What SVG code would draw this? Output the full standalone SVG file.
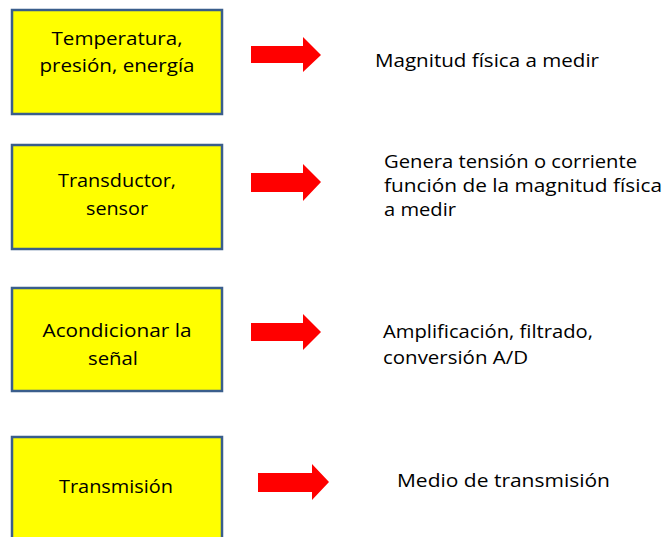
<svg xmlns="http://www.w3.org/2000/svg" width="665" height="537" viewBox="0 0 665 537">
<style>
.box{fill:#FFFF00;stroke:#3A5E8C;stroke-width:2.5}
.arr{fill:#FF0000}
text{font-family:"Open Sans","Liberation Sans",sans-serif;font-size:19px;fill:#000}
.c{text-anchor:middle}
</style>
<rect width="665" height="537" fill="#FFFFFF"/>
<g id="node-temperatura">
<rect class="box" x="12" y="10" width="210" height="104"/>
<text class="c" x="117" y="45" textLength="131" lengthAdjust="spacingAndGlyphs">Temperatura,</text>
<text class="c" x="117" y="72" textLength="155" lengthAdjust="spacingAndGlyphs">presión, energía</text>
</g>
<g id="node-transductor">
<rect class="box" x="12" y="145" width="210" height="104"/>
<text class="c" x="117" y="187" textLength="118" lengthAdjust="spacingAndGlyphs">Transductor,</text>
<text class="c" x="117" y="215" textLength="62" lengthAdjust="spacingAndGlyphs">sensor</text>
</g>
<g id="node-acondicionar">
<rect class="box" x="12" y="288" width="210" height="103"/>
<text class="c" x="117" y="337" textLength="149" lengthAdjust="spacingAndGlyphs">Acondicionar la</text>
<text class="c" x="113" y="365" textLength="50" lengthAdjust="spacingAndGlyphs">señal</text>
</g>
<g id="node-transmision">
<rect class="box" x="12" y="437" width="210" height="120"/>
<text class="c" x="116" y="493" textLength="114" lengthAdjust="spacingAndGlyphs">Transmisión</text>
</g>
<g id="connectors">
<polygon class="arr" points="251,46 303,46 303,37 321,55 303,72 303,63 251,63"/>
<polygon class="arr" points="251,173 303,173 303,164 321,182 303,201 303,192 251,192"/>
<polygon class="arr" points="251,323 303,323 303,314 321,332 303,350 303,341 251,341"/>
<polygon class="arr" points="258,473 312,473 312,464 329,482 312,500 312,492 258,492"/>
</g>
<g id="labels">
<text x="375" y="67" textLength="224" lengthAdjust="spacingAndGlyphs">Magnitud física a medir</text>
<text x="384" y="168" textLength="253" lengthAdjust="spacingAndGlyphs">Genera tensión o corriente</text>
<text x="384" y="192" textLength="278" lengthAdjust="spacingAndGlyphs">función de la magnitud física</text>
<text x="384" y="216" textLength="72" lengthAdjust="spacingAndGlyphs">a medir</text>
<text x="383" y="338" textLength="210" lengthAdjust="spacingAndGlyphs">Amplificación, filtrado,</text>
<text x="383" y="364" textLength="145" lengthAdjust="spacingAndGlyphs">conversión A/D</text>
<text x="397" y="487" textLength="213" lengthAdjust="spacingAndGlyphs">Medio de transmisión</text>
</g>
</svg>
